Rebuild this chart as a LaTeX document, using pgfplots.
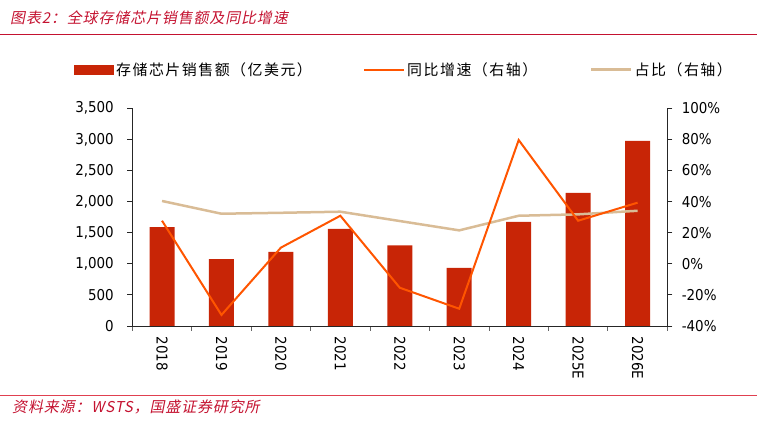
\documentclass[border=0pt]{standalone}
\usepackage{fontspec}
\usepackage{pgfplots}
\pgfplotsset{compat=1.18}
\setmainfont{DejaVu Sans Condensed}
\newfontfamily\cjk{Noto Sans CJK SC}[LetterSpace=10]
\newfontfamily\cjkit{Noto Sans CJK SC}[FakeSlant=0.2,LetterSpace=6]
\definecolor{barred}{HTML}{C82506}
\definecolor{growth}{HTML}{FF5500}
\definecolor{share}{HTML}{D9BC96}
\definecolor{titlered}{HTML}{C41230}
\definecolor{srcred}{HTML}{E04050}
\begin{document}
\begin{tikzpicture}
\path[use as bounding box] (0bp,0bp) rectangle (757bp,431bp);
\draw[titlered, line width=1.2bp] (0bp,396.3bp) -- (757bp,396.3bp);
\draw[srcred, line width=1bp] (0bp,35bp) -- (757bp,35bp);
\node[anchor=west, inner sep=0pt, text=titlered, font=\cjkit\fontsize{15}{17}\selectfont] at (10bp,413.5bp) {图表2：全球存储芯片销售额及同比增速};
\node[anchor=west, inner sep=0pt, text=titlered, font=\cjkit\fontsize{15}{17}\selectfont] at (12bp,24.3bp) {资料来源：WSTS，国盛证券研究所};
\begin{axis}[
  at={(132.3bp,105bp)}, anchor=south west, scale only axis,
  width=535bp, height=217.7bp,
  xmin=-0.5, xmax=8.5, ymin=0, ymax=3500,
  axis x line*=bottom, axis y line*=left,
  axis line style={black!85, line width=0.8bp},
  xtick={0,...,8},
  xticklabels={2018,2019,2020,2021,2022,2023,2024,2025E,2026E},
  major x tick style={draw=none},
  minor xtick={-0.5,0.5,...,8.5},
  minor x tick style={black!60, line width=0.8bp},
  ytick={0,500,...,3500},
  major y tick style={black!85, line width=0.8bp},
  tick align=outside, major tick length=5bp, minor tick length=5bp,
  /pgf/number format/assume math mode=true,
  /pgf/number format/1000 sep={,},
  tick label style={font=\fontsize{15}{15}\selectfont, black},
  x tick label style={rotate=-90, anchor=west, xshift=2bp},
  y tick label style={xshift=-10bp},
  ybar, bar width=25bp,
  legend columns=3,
  legend cell align=left,
  legend style={at={(-0.109,1.178)}, anchor=west, draw=none, fill=none, inner sep=0pt,
    font=\cjk\fontsize{15}{17}\selectfont,
    nodes={inner sep=0pt},
    /tikz/every odd column/.append style={column sep=2bp},
    /tikz/every even column/.append style={column sep=0pt}},
]
\addplot[fill=barred, draw=none,
  legend image code/.code={\fill[barred] (0bp,-5bp) rectangle (40bp,5bp);}]
  coordinates {(0,1588) (1,1077) (2,1190) (3,1560) (4,1298) (5,933) (6,1672) (7,2139) (8,2975)};
\addlegendentry{\makebox[247bp][l]{存储芯片销售额（亿美元）}}
\addlegendimage{legend image code/.code={\draw[growth, line width=2bp] (0bp,0bp) -- (40bp,0bp);}}
\addlegendentry{\makebox[183bp][l]{同比增速（右轴）}}
\addlegendimage{legend image code/.code={\draw[share, line width=2.5bp] (0bp,0bp) -- (40bp,0bp);}}
\addlegendentry{占比（右轴）}
\end{axis}
\begin{axis}[
  at={(132.3bp,105bp)}, anchor=south west, scale only axis,
  width=535bp, height=217.7bp,
  xmin=-0.5, xmax=8.5, ymin=-40, ymax=100,
  axis x line=none, axis y line*=right,
  axis line style={black!85, line width=0.8bp},
  ytick={-40,-20,...,100},
  yticklabel={\pgfmathprintnumber{\tick}\%},
  major y tick style={black!85, line width=0.8bp},
  tick align=outside, major tick length=5bp,
  /pgf/number format/assume math mode=true,
  tick label style={font=\fontsize{15}{15}\selectfont, black},
  y tick label style={xshift=6bp},
]
\addplot[share, line width=2.5bp] coordinates {(0,40.4) (1,32.2) (2,32.8) (3,33.5) (4,27.5) (5,21.5) (6,30.9) (7,31.8) (8,34.1)};
\addplot[growth, line width=2bp] coordinates {(0,27.7) (1,-32.9) (2,10.4) (3,30.9) (4,-15.4) (5,-28.9) (6,79.6) (7,27.7) (8,39.3)};
\end{axis}
\end{tikzpicture}
\end{document}
